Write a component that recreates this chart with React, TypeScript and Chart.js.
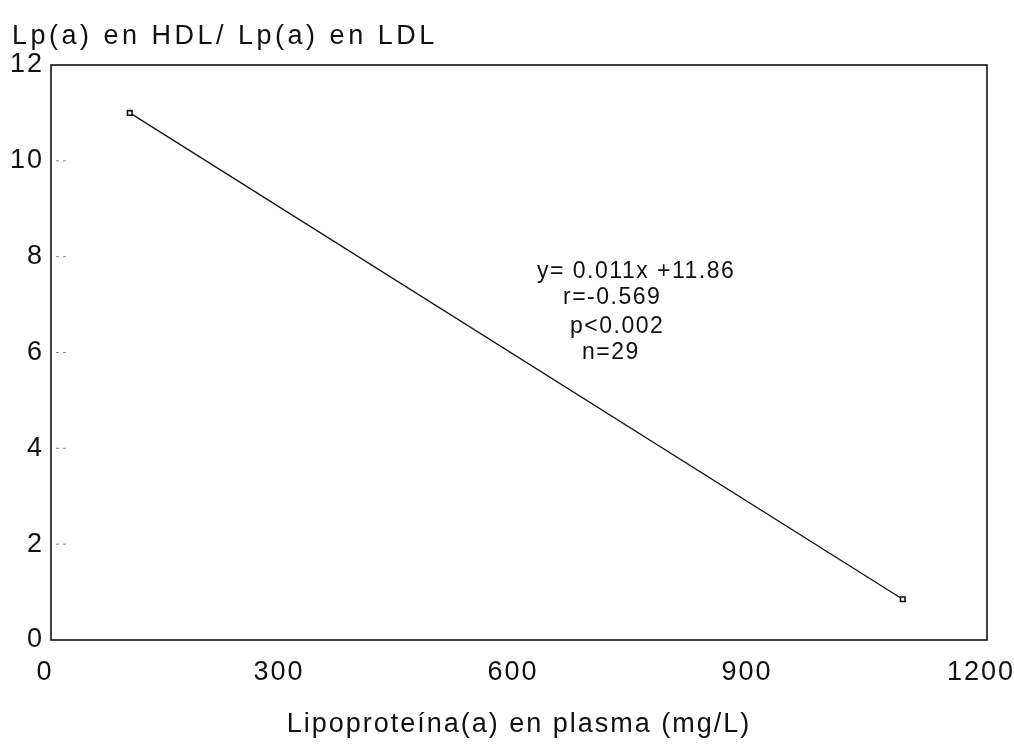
import React, { useEffect, useRef } from "react";
import { Chart, registerables } from "chart.js";

Chart.register(...registerables);

const xValues = [101, 1092];
const yValues = [11.0, 0.85];
const xTickValues = [0, 300, 600, 900, 1200];
const yTickValues = [0, 2, 4, 6, 8, 10, 12];
const titleText = "Lp(a) en HDL/ Lp(a) en LDL";
const xTitleText = "Lipoproteína(a) en plasma (mg/L)";
const statsLines = ["y= 0.011x +11.86", "r=-0.569", "p<0.002", "n=29"];
const statsOffsets = [486, 512, 519, 531];
const statsY = [272, 298, 327, 353];

const FONT = "'Liberation Sans', Arial, Helvetica, sans-serif";

const spacingPlugin = {
  id: "spacing",
  beforeLayout(chart: any) {
    chart.ctx.letterSpacing = "2px";
  },
  beforeDraw(chart: any) {
    const ctx = chart.ctx;
    ctx.save();
    ctx.fillStyle = "#ffffff";
    ctx.fillRect(0, 0, chart.width, chart.height);
    ctx.restore();
    ctx.letterSpacing = "2px";
  },
  afterDraw(chart: any) {
    const ctx = chart.ctx;
    const ca = chart.chartArea;
    ctx.save();
    // frame
    ctx.strokeStyle = "#111";
    ctx.lineWidth = 1.6;
    ctx.strokeRect(ca.left, ca.top, ca.right - ca.left, ca.bottom - ca.top);
    // faint inner ticks on y axis
    const ys = chart.scales.y;
    ctx.strokeStyle = "#888";
    ctx.lineWidth = 1;
    ctx.setLineDash([3, 4]);
    yTickValues.forEach((v) => {
      if (v === 0 || v === 12) return;
      const py = ys.getPixelForValue(v);
      ctx.beginPath();
      ctx.moveTo(ca.left + 5, py);
      ctx.lineTo(ca.left + 18, py);
      ctx.stroke();
    });
    ctx.setLineDash([]);
    // title
    ctx.fillStyle = "#111";
    ctx.letterSpacing = "3.5px";
    ctx.font = `27px ${FONT}`;
    ctx.textAlign = "left";
    ctx.textBaseline = "alphabetic";
    ctx.fillText(titleText, 12, 44);
    // stats
    ctx.letterSpacing = "1.5px";
    ctx.font = `23px ${FONT}`;
    ctx.textBaseline = "middle";
    statsLines.forEach((t, i) => {
      ctx.fillText(t, ca.left + statsOffsets[i], statsY[i]);
    });
    ctx.restore();
  },
};

export default function App() {
  const ref = useRef<HTMLCanvasElement | null>(null);
  useEffect(() => {
    if (!ref.current) return;
    const chart = new Chart(ref.current, {
      type: "line",
      data: {
        datasets: [
          {
            data: xValues.map((x, i) => ({ x, y: yValues[i] })),
            borderColor: "#111",
            borderWidth: 1.3,
            pointStyle: "rect",
            pointRadius: 3.2,
            pointBorderWidth: 1.6,
            pointBackgroundColor: "#fff",
            pointBorderColor: "#111",
            fill: false,
            tension: 0,
          },
        ],
      },
      options: {
        animation: false,
        responsive: true,
        maintainAspectRatio: false,
        layout: { padding: { left: 0, top: 65, right: 27, bottom: 0 } },
        plugins: {
          legend: { display: false },
          tooltip: { enabled: false },
          title: { display: false },
        },
        scales: {
          x: {
            type: "linear",
            min: 0,
            max: 1200,
            afterBuildTicks: (axis: any) => {
              axis.ticks = xTickValues.map((v) => ({ value: v }));
            },
            afterFit: (axis: any) => {
              axis.height = 104;
              axis.paddingLeft = 0;
              axis.paddingRight = 0;
            },
            grid: { display: false, drawTicks: false, tickLength: 0 },
            border: { display: false },
            ticks: {
              color: "#111",
              font: { family: FONT, size: 27 },
              padding: 16,
              labelOffset: -6,
              maxRotation: 0,
              autoSkip: false,
              callback: (v: any) => String(v),
            },
            title: {
              display: true,
              text: xTitleText,
              color: "#111",
              font: { family: FONT, size: 27 },
              padding: { top: 0, bottom: 3 },
            },
          },
          y: {
            type: "linear",
            min: 0,
            max: 12,
            afterBuildTicks: (axis: any) => {
              axis.ticks = yTickValues.map((v) => ({ value: v }));
            },
            afterFit: (axis: any) => {
              axis.width = 51;
              axis.paddingTop = 0;
              axis.paddingBottom = 0;
            },
            grid: { display: false, drawTicks: false, tickLength: 0 },
            border: { display: false },
            ticks: {
              color: "#111",
              font: { family: FONT, size: 27 },
              padding: 7,
              callback: (v: any) => String(v),
            },
          },
        },
      },
      plugins: [spacingPlugin],
    });
    return () => chart.destroy();
  }, []);
  return (
    <div style={{ position: "fixed", left: 0, top: 0, width: 1014, height: 744, background: "#fff" }}>
      <canvas ref={ref} />
    </div>
  );
}
